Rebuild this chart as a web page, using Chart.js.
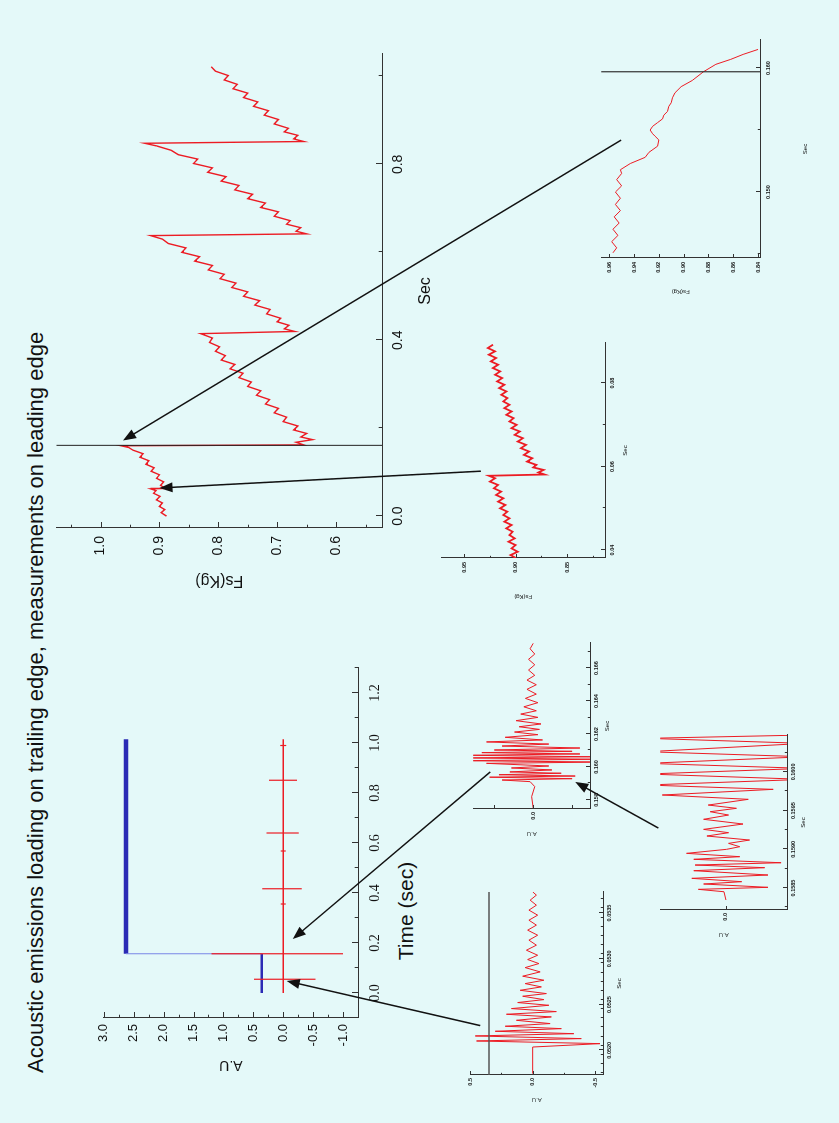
<!DOCTYPE html>
<html>
<head>
<meta charset="utf-8">
<script src="https://cdn.jsdelivr.net/npm/chart.js@4.4.0/dist/chart.umd.min.js"></script>
<style>
  html, body { margin: 0; padding: 0; background: #e4f9f9; overflow: hidden; }
  #stage {
    position: absolute; left: 0; top: 0; width: 1123px; height: 839px;
    transform-origin: 0 0; transform: translate(0, 1123px) rotate(-90deg);
    background: #e4f9f9; font-family: "Liberation Sans", Arial, sans-serif;
  }
  .box { position: absolute; }
  #title { position: absolute; left: 50px; top: 23px; font-size: 22px; white-space: nowrap; color: #111; }
  .lbl { position: absolute; white-space: nowrap; color: #111; transform: translate(-50%, -50%); }
  #arrows { position: absolute; left: 0; top: 0; }
</style>
</head>
<body>
<div id="stage">
  <div id="title">Acoustic emissions loading on trailing edge, measurements on leading edge</div>
  <div class="lbl" style="left:212px;top:406px;font-size:21px">Time (sec)</div>
  <canvas id="arrows" width="1123" height="839"></canvas>
</div>
<script>
// ---- acoustic emission, overview (time in sec, A.U) ----
const aeLowT = [0, 0.157];
const aeLowV = [0.36, 0.36];
const aeHighT = [0.157, 1.015];
const aeHighV = [2.63, 2.63];
const aeBaseT = [0, 1.015];
const aeBaseV = [0, 0];
const aeSpikeT = [0.055, 0.157, 0.356, 0.417, 0.568, 0.64, 0.851, 0.99];
const aeSpikeMax = [0.49, 1.2, 0.04, 0.35, 0.04, 0.28, 0.24, 0.05];
const aeSpikeMin = [-0.54, -1.0, -0.04, -0.31, -0.04, -0.26, -0.23, -0.05];
const aeXTicks = [0, 0.2, 0.4, 0.6, 0.8, 1.0, 1.2];
const aeXLabels = ["0.0", "0.2", "0.4", "0.6", "0.8", "1.0", "1.2"];
const aeYTicks = [-1, -0.5, 0, 0.5, 1, 1.5, 2, 2.5, 3];
const aeYLabels = ["-1.0", "-0.5", "0.0", "0.5", "1.0", "1.5", "2.0", "2.5", "3.0"];

// ---- AE burst 1 ----
const b1T = [0.051745,0.052036,0.052073,0.052102,0.052128,0.052157,0.052182,0.052208,0.052237,0.052263,0.052292,0.052328,0.052365,0.052394,0.052423,0.052456,0.052492,0.052522,0.052554,0.052591,0.05262,0.052656,0.052693,0.052729,0.052766,0.05281,0.052857,0.052904,0.052948,0.052992,0.053039,0.053094,0.053149,0.053204,0.053258,0.053313,0.053368,0.053422,0.053477,0.053532,0.053586,0.053641,0.053696,0.053732];
const b1A = [0,0,-0.54,0.45,-0.39,0.46,-0.33,0.30,-0.23,0.22,-0.14,0.13,-0.15,0.21,-0.19,0.17,-0.13,0.12,-0.09,0.08,-0.11,0.10,-0.07,0.06,-0.09,0.08,-0.06,0.06,-0.05,0.04,-0.04,0.05,-0.03,0.03,-0.04,0.04,-0.03,0.03,-0.04,0.03,-0.03,0.02,-0.03,0];
const b1RefT = [0.05173, 0.05373];
const b1RefV = [0.35, 0.35];
const b1XTicks = [0.0520, 0.0525, 0.0530, 0.0535];
const b1XLabels = ["0.0520", "0.0525", "0.0530", "0.0535"];
const b1YTicks = [-0.5, 0, 0.5];
const b1YLabels = ["-0.5", "0.0", "0.5"];

// ---- AE burst 2 ----
const b2T = [0.15750,0.15820,0.15881,0.15911,0.15921,0.15929,0.15938,0.15945,0.15953,0.15962,0.15970,0.15982,0.15994,0.16006,0.16022,0.16030,0.16038,0.16047,0.16055,0.16062,0.16071,0.16079,0.16087,0.16095,0.16103,0.16115,0.16127,0.16139,0.16152,0.16164,0.16180,0.16196,0.16212,0.16228,0.16244,0.16261,0.16281,0.16301,0.16321,0.16341,0.16365,0.16390,0.16416,0.16442,0.16471,0.16499,0.16527,0.16556,0.16588,0.16620,0.16653,0.16685,0.16717,0.16750];
const b2A = [0,0.01,-0.01,0.02,0.20,-0.25,0.28,-0.27,0.22,-0.18,0.15,-0.12,0.14,-0.10,0.30,-0.45,0.45,-0.40,0.45,-0.37,0.42,-0.30,0.33,-0.25,0.25,-0.30,0.20,-0.10,0.30,-0.06,0.18,-0.03,0.12,-0.04,0.09,-0.05,0.11,-0.03,0.08,-0.02,0.06,-0.03,0.05,-0.02,0.04,-0.02,0.04,-0.01,0.03,-0.01,0.03,-0.01,0.02,0];
const b2XTicks = [0.158, 0.160, 0.162, 0.164, 0.166];
const b2XLabels = ["0.158", "0.160", "0.162", "0.164", "0.166"];
const b2YTicks = [-0.25, 0, 0.25];
const b2YLabels = ["", "0.0", ""];

// ---- AE burst 3 (start of burst 2) ----
const b3T = [0.158345,0.158452,0.158483,0.158509,0.158552,0.158582,0.158625,0.158668,0.158724,0.158763,0.158797,0.158827,0.158871,0.158905,0.158948,0.159000,0.159034,0.159077,0.15912,0.159172,0.159215,0.159258,0.159327,0.159388,0.159443,0.159486,0.15953,0.159572,0.159646,0.159702,0.159775,0.159831,0.159904,0.159973,0.160046,0.160111,0.160196,0.160261,0.160369,0.160434,0.160477];
const b3A = [0,0.03,0.42,-0.64,0.34,-0.24,0.52,-0.64,0.49,-0.59,0.47,-0.84,0.49,-0.21,0.60,-0.01,-0.21,-0.04,-0.36,0.29,-0.04,0.34,-0.26,0.34,-0.04,0.24,-0.16,0.27,-0.34,0.97,-0.72,1.2,-1.2,1.2,-1.2,1.2,-1.2,1.2,-1.2,1.2,-1.2];
const b3XTicks = [0.1585, 0.1590, 0.1595, 0.1600];
const b3XLabels = ["0.1585", "0.1590", "0.1595", "0.1600"];
const b3YTicks = [0];
const b3YLabels = ["0.0"];

// ---- force on leading edge, overview ----
const fsT = [
  0.000,0.008,0.015,0.022,0.030,0.037,0.045,0.052,0.058,0.062,0.063,
  0.070,0.078,0.086,0.094,0.102,0.110,0.118,0.126,0.134,0.142,0.150,0.156,0.160,0.162,
  0.168,0.174,0.180,0.188,0.196,0.205,0.215,0.225,0.235,0.245,0.255,0.265,0.275,0.285,0.295,0.305,0.315,0.325,0.335,0.345,0.355,0.365,0.375,0.385,0.395,0.405,0.415,0.420,
  0.426,0.434,0.442,0.450,0.460,0.470,0.480,0.490,0.500,0.510,0.520,0.530,0.540,0.550,0.560,0.570,0.580,0.590,0.600,0.610,0.620,0.630,0.638,0.642,
  0.648,0.656,0.664,0.672,0.682,0.692,0.702,0.712,0.722,0.732,0.742,0.752,0.762,0.772,0.782,0.792,0.802,0.812,0.822,0.832,0.842,0.848,0.852,
  0.858,0.866,0.874,0.882,0.892,0.902,0.912,0.922,0.932,0.942,0.952,0.962,0.972,0.982,0.992,1.002,1.012,1.022];
const fsV = [
  0.888,0.897,0.891,0.900,0.895,0.905,0.899,0.910,0.906,0.915,0.890,
  0.898,0.893,0.905,0.900,0.914,0.909,0.923,0.918,0.933,0.928,0.945,0.952,0.965,0.655,
  0.668,0.640,0.660,0.650,0.672,0.665,0.690,0.684,0.705,0.698,0.720,0.713,0.735,0.728,0.750,0.744,0.765,0.758,0.780,0.772,0.795,0.788,0.805,0.798,0.815,0.810,0.830,0.670,
  0.688,0.680,0.700,0.694,0.718,0.712,0.738,0.730,0.757,0.750,0.777,0.770,0.797,0.790,0.817,0.810,0.840,0.832,0.862,0.855,0.885,0.895,0.915,0.650,
  0.668,0.660,0.684,0.678,0.705,0.698,0.728,0.720,0.750,0.742,0.772,0.765,0.795,0.787,0.818,0.810,0.842,0.835,0.868,0.880,0.905,0.925,0.655,
  0.672,0.665,0.688,0.681,0.705,0.698,0.722,0.715,0.740,0.733,0.757,0.750,0.775,0.768,0.790,0.783,0.805,0.812];
const fsMarkT = [0.161, 0.161];
const fsMarkV = [0.4, 1.2];
const fsXTicks = [0, 0.4, 0.8];
const fsXLabels = ["0.0", "0.4", "0.8"];
const fsYTicks = [0.6, 0.7, 0.8, 0.9, 1.0];
const fsYLabels = ["0.6", "0.7", "0.8", "0.9", "1.0"];

// ---- force detail near 0.06 s ----
const fdT = [0.0380,0.0388,0.0396,0.0404,0.0412,0.0420,0.0428,0.0436,0.0444,0.0452,0.0460,0.0468,0.0476,0.0484,0.0492,0.0500,0.0508,0.0516,0.0524,0.0532,0.0540,0.0548,0.0556,0.0564,0.0572,0.0578,0.0581,0.0586,0.0592,0.0598,0.0604,0.0612,0.0620,0.0628,0.0636,0.0644,0.0652,0.0660,0.0668,0.0676,0.0684,0.0692,0.0700,0.0708,0.0716,0.0724,0.0732,0.0740,0.0748,0.0756,0.0764,0.0772,0.0780,0.0788,0.0796,0.0804,0.0812,0.0820,0.0828,0.0836,0.0844,0.0852,0.0860,0.0868,0.0876,0.0884,0.0892];
const fdV = [0.899,0.905,0.898,0.904,0.900,0.907,0.901,0.906,0.903,0.909,0.904,0.911,0.906,0.912,0.908,0.915,0.910,0.917,0.912,0.919,0.914,0.921,0.917,0.925,0.920,0.926,0.872,0.878,0.873,0.883,0.880,0.889,0.884,0.892,0.887,0.895,0.890,0.898,0.893,0.901,0.896,0.904,0.899,0.906,0.902,0.909,0.904,0.911,0.906,0.912,0.908,0.914,0.909,0.916,0.911,0.918,0.913,0.920,0.915,0.922,0.917,0.924,0.919,0.926,0.920,0.927,0.922];
const fdXTicks = [0.04, 0.06, 0.08];
const fdXLabels = ["0.04", "0.06", "0.08"];
const fdYTicks = [0.85, 0.90, 0.95];
const fdYLabels = ["0.85", "0.90", "0.95"];

// ---- force detail near 0.16 s ----
const fgT = [0.1451,0.1455,0.1460,0.1465,0.1470,0.1475,0.1480,0.1485,0.1490,0.1495,0.1500,0.1505,0.1510,0.1515,0.1518,0.1523,0.1528,0.1532,0.1537,0.1542,0.1545,0.1547,0.1550,0.1553,0.1556,0.1559,0.1562,0.1565,0.1569,0.1572,0.1576,0.1580,0.1585,0.1590,0.1597,0.1603,0.1607,0.1611,0.1615];
const fgV = [0.957,0.954,0.958,0.953,0.957,0.952,0.956,0.951,0.955,0.951,0.955,0.950,0.954,0.950,0.951,0.943,0.931,0.928,0.921,0.920,0.923,0.925,0.927,0.925,0.921,0.917,0.916,0.913,0.912,0.910,0.909,0.907,0.902,0.893,0.884,0.874,0.862,0.852,0.840];
const fgMarkT = [0.1597, 0.1597];
const fgMarkV = [0.80, 1.0];
const fgXTicks = [0.150, 0.160];
const fgXLabels = ["0.150", "0.160"];
const fgYTicks = [0.84, 0.86, 0.88, 0.90, 0.92, 0.94, 0.96];
const fgYLabels = ["0.84", "0.86", "0.88", "0.90", "0.92", "0.94", "0.96"];

// ---- arrows: tail chart/point -> head chart/point (data coordinates) ----
const arrowTailChart = ["b1", "b2", "b3", "fd", "fg"];
const arrowTailXY = [[0.05227, 0.42], [0.15970, 0.276], [0.159275, 1.03], [0.0589, 0.9337], [0.15419, 0.9504]];
const arrowHeadChart = ["ae", "ae", "b2", "fs", "fs"];
const arrowHeadXY = [[0.048, -0.06], [0.216, -0.16], [0.15909, -0.27], [0.064, 0.90], [0.172, 0.962]];

const RED = "#ec1c24";
const SANS = '"Liberation Sans", Arial, sans-serif';
const SERIF = '"Liberation Serif", "Times New Roman", serif';
Chart.defaults.color = "#111";
Chart.defaults.font.family = SANS;

const stage = document.getElementById("stage");
const arrowCv = document.getElementById("arrows");

const xy = (t, v) => t.map((x, i) => ({ x: x, y: v[i] }));
const steps = (a, b, s) => { const out = []; for (let v = a; v <= b + s * 1e-6; v += s) out.push(+v.toFixed(7)); return out; };

function line(data, color, width) {
  return { data: data, borderColor: color, borderWidth: width, pointRadius: 0, tension: 0, fill: false, spanGaps: false };
}

// inward tick marks drawn from the chart's scales
function tickMarks(spec) {
  return {
    id: "tickMarks",
    afterDatasetsDraw(chart) {
      const { ctx, chartArea: a } = chart;
      ctx.save();
      ctx.strokeStyle = "#333";
      ctx.lineWidth = 1;
      ["x", "y"].forEach(k => {
        const s = chart.scales[k];
        [[spec[k][0], spec.len], [spec[k][1], spec.len * 0.55]].forEach(([vals, len]) => {
          vals.forEach(v => {
            if (v < s.min - 1e-9 || v > s.max + 1e-9) return;
            const p = Math.round(s.getPixelForValue(v)) + 0.5;
            ctx.beginPath();
            if (k === "x") { ctx.moveTo(p, a.bottom); ctx.lineTo(p, a.bottom - len); }
            else { ctx.moveTo(a.left, p); ctx.lineTo(a.left + len, p); }
            ctx.stroke();
          });
        });
      });
      ctx.restore();
    }
  };
}

function axis(min, max, ticks, labels, font, pad, title) {
  return {
    type: "linear", min: min, max: max,
    afterBuildTicks: s => { s.ticks = ticks.map(v => ({ value: v })); },
    ticks: { callback: (v, i) => labels[i], autoSkip: false, maxRotation: 0, padding: pad, font: font },
    grid: { display: false, drawTicks: false },
    border: { display: true, color: "#333", width: 1 },
    title: title
  };
}

// area = [left, top, width, height] of plot area on the stage, pad = [l, t, r, b]
function panel(area, pad, datasets, x, y, marks) {
  const w = area[2] + pad[0] + pad[2], h = area[3] + pad[1] + pad[3];
  const box = document.createElement("div");
  box.className = "box";
  box.style.left = (area[0] - pad[0]) + "px";
  box.style.top = (area[1] - pad[1]) + "px";
  const cv = document.createElement("canvas");
  cv.width = w; cv.height = h;
  box.appendChild(cv);
  stage.insertBefore(box, arrowCv);
  x.afterFit = s => { s.height = pad[3]; };
  y.afterFit = s => { s.width = pad[0]; };
  const ch = new Chart(cv, {
    type: "line",
    data: { datasets: datasets },
    options: {
      responsive: false, animation: false, devicePixelRatio: 1, parsing: true,
      layout: { padding: { top: pad[1], right: pad[2], left: 0, bottom: 0 } },
      scales: { x: x, y: y },
      plugins: { legend: { display: false }, tooltip: { enabled: false } }
    },
    plugins: [tickMarks(marks)]
  });
  ch.$origin = [area[0] - pad[0], area[1] - pad[1]];
  return ch;
}

const tiny = { size: 5.5, weight: "bold", family: SANS };
const tinyTitle = (text, pb, pt) => ({ display: true, text: text, font: { size: 6, lineHeight: 1.2, family: SANS }, padding: { top: pt || 0, bottom: pb || 0 } });

// spikes of the red AE trace, separated by gaps
const spikePts = [];
aeSpikeT.forEach((t, i) => { spikePts.push({ x: t, y: aeSpikeMax[i] }, { x: t, y: aeSpikeMin[i] }, { x: t, y: null }); });

const charts = {};
charts.ae = panel([105, 100, 350, 258], [60, 10, 10, 60], [
  line(xy(aeBaseT, aeBaseV), RED, 1.3),
  line(spikePts, RED, 1.2),
  line([{ x: aeLowT[1], y: aeLowV[1] }, { x: aeHighT[0], y: aeHighV[0] }], "#7a86e6", 1),
  line(xy(aeLowT, aeLowV), "#2b2bb5", 2.5),
  line(xy(aeHighT, aeHighV), "#2b2bb5", 4.5)
],
  axis(-0.1, 1.3, aeXTicks, aeXLabels, { size: 14, family: SERIF }, 9, { display: false }),
  axis(-1.25, 3.0, aeYTicks, aeYLabels, { size: 13 }, 6,
    { display: true, text: "A.U", font: { size: 14, lineHeight: 1.2 }, padding: { top: 5, bottom: 0 } }),
  { x: [aeXTicks, steps(0.1, 1.3, 0.2)], y: [aeYTicks, steps(-1.25, 3, 0.5)], len: 6 });

charts.b1 = panel([48, 470, 183, 133], [30, 6, 8, 22], [
  line(xy(b1RefT, b1RefV), "#555", 1.5),
  line(xy(b1T, b1A), RED, 1)
],
  axis(0.05173, 0.05373, b1XTicks, b1XLabels, tiny, 3, tinyTitle("Sec", 2.4)),
  axis(-0.564, 0.5, b1YTicks, b1YLabels, tiny, 3, tinyTitle("A.U", 0, 1.4)),
  { x: [b1XTicks, steps(0.05175, 0.0537, 0.0001)], y: [b1YTicks, [-0.25, 0.25]], len: 4 });

charts.b2 = panel([314, 473, 166, 117], [30, 6, 8, 22], [
  line(xy(b2T, b2A), RED, 1)
],
  axis(0.15745, 0.16752, b2XTicks, b2XLabels, tiny, 3, tinyTitle("Sec", 1)),
  axis(-0.365, 0.385, b2YTicks, b2YLabels, tiny, 3, tinyTitle("A.U", 0, 1.4)),
  { x: [b2XTicks, steps(0.157, 0.1675, 0.001)], y: [b2YTicks, []], len: 4 });

charts.b3 = panel([213, 660, 175, 127], [30, 6, 8, 20], [
  line(xy(b3T, b3A), RED, 1)
],
  axis(0.158216, 0.160477, b3XTicks, b3XLabels, tiny, 3, tinyTitle("Sec", 0.4)),
  axis(-0.93, 1.0, b3YTicks, b3YLabels, tiny, 3, tinyTitle("A.U", 0, 1.4)),
  { x: [b3XTicks, steps(0.15825, 0.16045, 0.00025)], y: [b3YTicks, []], len: 4 });

charts.fs = panel([595, 50, 474, 332], [70, 10, 10, 60], [
  line(xy(fsMarkT, fsMarkV), "#222", 1),
  line(xy(fsT, fsV), RED, 1.4)
],
  axis(-0.027, 1.051, fsXTicks, fsXLabels, { size: 14 }, 8,
    { display: true, text: "Sec", font: { size: 16, lineHeight: 1.2 }, padding: { top: 0, bottom: 7 } }),
  axis(0.522, 1.075, fsYTicks, fsYLabels, { size: 14 }, 8,
    { display: true, text: "Fs(Kg)", font: { size: 16, lineHeight: 1.2 }, padding: { top: 8, bottom: 0 } }),
  { x: [fsXTicks, [0.2, 0.6, 1.0]], y: [fsYTicks, steps(0.55, 1.05, 0.1)], len: 6 });

charts.fd = panel([565, 440, 215, 165], [45, 6, 8, 25], [
  line(xy(fdT, fdV), RED, 1.8)
],
  axis(0.0381, 0.0896, fdXTicks, fdXLabels, tiny, 4, tinyTitle("Sec", 1.4)),
  axis(0.8135, 0.972, fdYTicks, fdYLabels, tiny, 4, tinyTitle("Fs(Kg)", 0, 2.4)),
  { x: [fdXTicks, [0.05, 0.07]], y: [fdYTicks, [0.825, 0.875, 0.925]], len: 4 });

charts.fg = panel([865, 600, 218, 160], [40, 6, 8, 50], [
  line(xy(fgMarkT, fgMarkV), "#333", 1.2),
  line(xy(fgT, fgV), RED, 1)
],
  axis(0.14468, 0.16226, fgXTicks, fgXLabels, tiny, 5, tinyTitle("Sec", 1.4)),
  axis(0.8384, 0.9664, fgYTicks, fgYLabels, tiny, 4, tinyTitle("Fs(Kg)", 0, 2.4)),
  { x: [fgXTicks, [0.145, 0.155]], y: [fgYTicks, []], len: 4 });

// arrows linking the panels
function toStage(ch, p) {
  return [ch.$origin[0] + ch.scales.x.getPixelForValue(p[0]), ch.$origin[1] + ch.scales.y.getPixelForValue(p[1])];
}
const actx = arrowCv.getContext("2d");
actx.strokeStyle = "#111";
actx.fillStyle = "#111";
actx.lineWidth = 1.5;
arrowTailChart.forEach((name, i) => {
  const p = toStage(charts[name], arrowTailXY[i]);
  const q = toStage(charts[arrowHeadChart[i]], arrowHeadXY[i]);
  const ang = Math.atan2(q[1] - p[1], q[0] - p[0]);
  const L = 13, W = 5;
  actx.beginPath(); actx.moveTo(p[0], p[1]); actx.lineTo(q[0] - 6 * Math.cos(ang), q[1] - 6 * Math.sin(ang)); actx.stroke();
  actx.beginPath();
  actx.moveTo(q[0], q[1]);
  actx.lineTo(q[0] - L * Math.cos(ang) + W * Math.sin(ang), q[1] - L * Math.sin(ang) - W * Math.cos(ang));
  actx.lineTo(q[0] - L * Math.cos(ang) - W * Math.sin(ang), q[1] - L * Math.sin(ang) + W * Math.cos(ang));
  actx.closePath(); actx.fill();
});
</script>
</body>
</html>
